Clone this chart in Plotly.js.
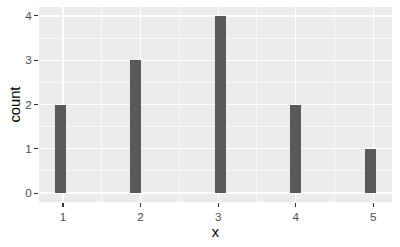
<!DOCTYPE html>
<html>
<head>
<meta charset="utf-8">
<script src="https://cdn.plot.ly/plotly-3.0.1.min.js"></script>
<style>html,body{margin:0;padding:0;background:#fff;}#chart{width:400px;height:247px;}</style>
</head>
<body>
<div id="chart"></div>
<script>
// Histogram bins (ggplot2, bins = 30)
const binCenters = [0.966, 1.931, 3.034, 4.000, 4.966];
const counts = [2, 3, 4, 2, 1];
const binWidth = 0.138;
const xTicks = [1, 2, 3, 4, 5];
const yTicks = [0, 1, 2, 3, 4];
const xTitle = "x";
const yTitle = "count";

const trace = {
  type: "bar",
  x: binCenters,
  y: counts,
  width: binCenters.map(() => binWidth),
  marker: {color: "#595959", line: {width: 0}},
  hoverinfo: "x+y"
};

const axisCommon = {
  showline: false,
  zeroline: false,
  ticks: "outside",
  ticklen: 4,
  tickwidth: 1.2,
  tickcolor: "#333333",
  tickfont: {family: "Liberation Sans, Arial, sans-serif", size: 11.7, color: "#4D4D4D"},
  showgrid: true,
  gridcolor: "#FFFFFF",
  gridwidth: 1.3,
  minor: {dtick: 0.5, tick0: 0.5, showgrid: true, gridcolor: "#FFFFFF", gridwidth: 0.6, ticks: ""}
};

const layout = {
  width: 400,
  height: 247,
  margin: {l: 39, r: 8, t: 7, b: 45},
  paper_bgcolor: "#FFFFFF",
  plot_bgcolor: "#EBEBEB",
  showlegend: false,
  bargap: 0,
  xaxis: Object.assign({}, axisCommon, {
    range: [0.6897, 5.2414],
    tickmode: "array",
    tickvals: xTicks,
    ticktext: xTicks.map(String),
    title: {text: xTitle, font: {family: "Liberation Sans, Arial, sans-serif", size: 14.7, color: "#000000"}, standoff: 4}
  }),
  yaxis: Object.assign({}, axisCommon, {
    range: [-0.2, 4.2],
    tickmode: "array",
    tickvals: yTicks,
    ticktext: yTicks.map(String),
    title: {text: yTitle, font: {family: "Liberation Sans, Arial, sans-serif", size: 14.7, color: "#000000"}, standoff: 0}
  })
};

Plotly.newPlot("chart", [trace], layout, {staticPlot: true, displayModeBar: false});
</script>
</body>
</html>
